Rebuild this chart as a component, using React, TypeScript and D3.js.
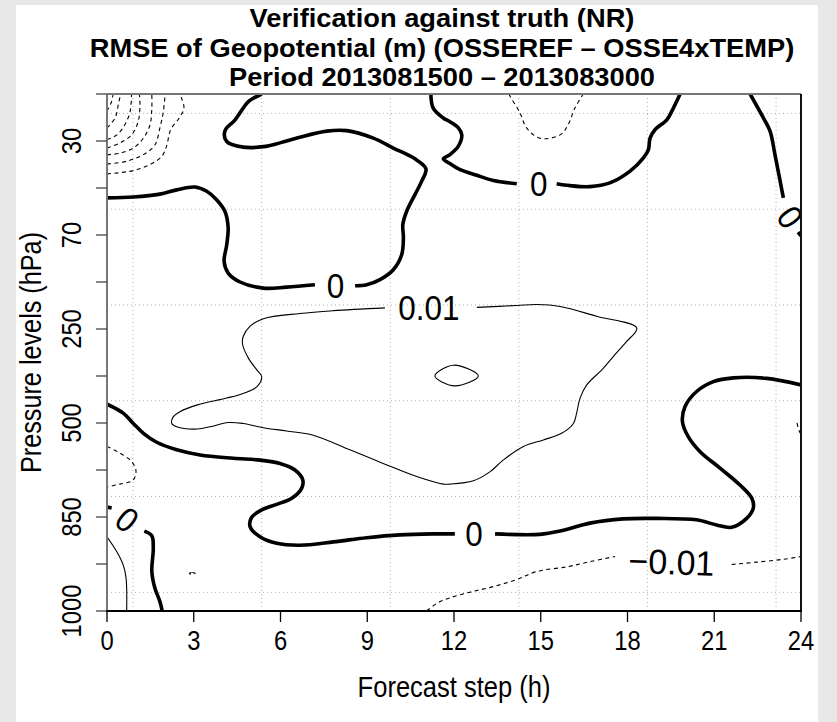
import React from "react";
import * as d3 from "d3";

const WIDTH = 837;
const HEIGHT = 722;

// Axis categories
const STEPS = [0, 3, 6, 9, 12, 15, 18, 21, 24];
const PRESSURE_LEVELS = ["20", "30", "50", "70", "150", "250", "400", "500", "700", "850", "925", "1000"];
const LABELLED_LEVELS = ["30", "70", "250", "500", "850", "1000"];

const TITLE_LINES = [
  "Verification against truth (NR)",
  "RMSE of Geopotential (m) (OSSEREF \u2013 OSSE4xTEMP)",
  "Period 2013081500 \u2013 2013083000",
];

// Contour segments: [forecast step (h), pressure level index from the top]
const zeroNorthWestA = [
  [0, 2.21], [0.91, 2.19], [1.83, 2.13], [2.41, 2.04], [3.04, 1.98], [3.45, 2.07], [3.79, 2.25],
  [4.08, 2.5], [4.19, 2.85], [4.14, 3.21], [4.05, 3.56], [4.19, 3.81], [4.6, 4.0], [5.41, 4.13],
  [6.21, 4.11], [7.19, 4.06],
];
const zeroNorthWestB = [
  [8.58, 4.08], [8.98, 4.06], [9.44, 3.95], [9.9, 3.74], [10.19, 3.42], [10.25, 3.06], [10.23, 2.78],
  [10.36, 2.5], [10.65, 2.14], [10.88, 1.86], [11.03, 1.59], [10.65, 1.38], [9.9, 1.15], [9.21, 0.94],
  [8.29, 0.78], [7.6, 0.79], [6.67, 0.92], [5.98, 1.04], [5.41, 1.12], [4.71, 1.13], [4.14, 1.01],
  [4.08, 0.78], [4.43, 0.55], [4.71, 0.3], [4.89, 0.16], [5.35, 0],
];
const zeroNorthA = [
  [11.2, 0], [11.28, 0.3], [11.63, 0.51], [11.86, 0.59], [12.15, 0.72], [12.27, 0.87], [12.15, 1.11],
  [11.86, 1.29], [11.63, 1.38], [11.86, 1.48], [12.21, 1.61], [12.79, 1.73], [13.36, 1.84], [14.17, 1.91],
];
const zeroNorthB = [
  [15.55, 1.91], [16.01, 1.95], [16.7, 1.97], [17.39, 1.89], [18.09, 1.64], [18.55, 1.36], [18.72, 1.19],
  [18.78, 0.94], [18.95, 0.76], [19.36, 0.55], [19.53, 0.37], [19.82, 0],
];
const zeroNorthEastA = [[22.24, 0], [22.7, 0.51], [22.93, 0.79], [23.1, 1.29], [23.39, 2.21]];
const zeroNorthEastB = [[23.9, 2.94], [24, 3.02]];
const zeroMiddleA = [
  [0, 6.6], [0.56, 6.79], [0.91, 7.01], [1.26, 7.22], [1.72, 7.41], [2.41, 7.57], [3.22, 7.68],
  [4.37, 7.75], [5.29, 7.79], [5.98, 7.86], [6.5, 8.0], [6.77, 8.21], [6.73, 8.39], [6.39, 8.6],
  [5.87, 8.73], [5.35, 8.85], [5.0, 9.01], [4.95, 9.21], [5.29, 9.42], [5.87, 9.56], [6.67, 9.6],
  [7.83, 9.53], [8.98, 9.44], [10.13, 9.38], [11.28, 9.36], [12.03, 9.36],
];
const zeroMiddleB = [
  [13.42, 9.36], [14.97, 9.37], [15.67, 9.3], [16.7, 9.13], [17.85, 9.04], [19.01, 9.03], [20.39, 9.06],
  [21.08, 9.17], [21.6, 9.22], [22.12, 9.03], [22.35, 8.81], [22.3, 8.6], [21.89, 8.32], [21.2, 7.96],
  [20.51, 7.61], [20.1, 7.29], [19.9, 6.97], [19.99, 6.65], [20.39, 6.33], [20.97, 6.12], [21.66, 6.04],
  [22.81, 6.05], [24, 6.19],
];
const zeroSouthWestStub = [[0, 8.79], [0.16, 8.81]];
const zeroSouthWest = [
  [1.29, 9.3], [1.55, 9.4], [1.6, 9.67], [1.55, 10.16], [1.66, 10.52], [1.83, 10.8], [1.91, 11],
];

const plusUpper = [
  [12.79, 4.54], [14.17, 4.5], [14.86, 4.48], [15.67, 4.52], [16.93, 4.73], [18.32, 4.98], [17.95, 5.28],
  [17.53, 5.57], [17.16, 5.84], [16.59, 6.19], [16.36, 6.47], [16.24, 6.79], [16.13, 7.01], [15.72, 7.22],
  [15.09, 7.36], [14.4, 7.5], [13.7, 7.79], [13.24, 8.04], [12.67, 8.23], [11.86, 8.3], [11.63, 8.3],
  [10.71, 8.14], [9.55, 7.86], [8.4, 7.57], [7.13, 7.26], [6.21, 7.17], [5.41, 7.1], [4.71, 7.01],
  [4.19, 6.99], [3.56, 7.08], [3.04, 7.13], [2.41, 7.08], [2.24, 7.01], [2.29, 6.87], [2.52, 6.76],
  [3.1, 6.62], [4.14, 6.47], [4.71, 6.37], [5.18, 6.23], [5.35, 6.01], [5.18, 5.87], [4.89, 5.62],
  [4.69, 5.33], [4.71, 5.16], [4.95, 4.94], [5.41, 4.78], [6.67, 4.67], [7.83, 4.61], [9.61, 4.55],
];
const plusLens = [[11.34, 6.0], [11.98, 5.77], [12.84, 6.0], [12.03, 6.21]];
const plusSouthWest = [[0, 9.42], [0.34, 9.74], [0.56, 10.02], [0.66, 10.3], [0.68, 11]];

const minusSouthA = [
  [11.06, 11], [11.4, 10.84], [11.86, 10.72], [12.55, 10.6], [13.36, 10.48], [14.17, 10.33],
  [14.86, 10.16], [15.9, 10.06], [16.7, 9.95], [17.57, 9.84],
];
const minusSouthB = [[21.6, 10.01], [22.47, 9.96], [23.39, 9.9], [24, 9.84]];
const minusWest = [[0, 7.5], [0.45, 7.64], [0.85, 7.82], [1.0, 8.0], [0.91, 8.21], [0.45, 8.3], [0, 8.36]];
const minusEast = [[23.86, 7.0], [23.97, 7.21], [24, 7.22]];
const minusNorth = [
  [13.9, 0], [13.94, 0.05], [14.28, 0.4], [14.51, 0.72], [14.97, 0.94], [15.67, 0.87], [15.95, 0.65],
  [16.18, 0.3], [16.47, 0],
];
const minusBlob = [[2.85, 10.2], [2.95, 10.18], [3.05, 10.2], [2.95, 10.22]];

// Stratospheric minimum in the upper-left corner, outermost ring first
const corner1 = [[0, 1.7], [0.91, 1.63], [1.49, 1.5], [1.89, 1.33], [2.06, 1.11], [2.2, 0.76], [2.5, 0.51], [2.66, 0.3], [2.58, 0.09], [2.52, 0]];
const corner2 = [[0, 1.49], [0.68, 1.43], [1.26, 1.29], [1.66, 1.08], [1.83, 0.72], [1.95, 0.37], [2.01, 0]];
const corner3 = [[0, 1.29], [0.45, 1.26], [0.91, 1.15], [1.26, 0.94], [1.49, 0.65], [1.55, 0.3], [1.55, 0]];
const corner4 = [[0, 1.15], [0.45, 1.04], [0.85, 0.87], [1.08, 0.58], [1.14, 0.23], [1.12, 0]];
const corner5 = [[0, 0.97], [0.34, 0.87], [0.62, 0.65], [0.8, 0.37], [0.85, 0]];
const corner6 = [[0, 0.72], [0.28, 0.51], [0.39, 0.23], [0.47, 0]];
const corner7 = [[0, 0.37], [0.16, 0.16], [0.21, 0]];

type Seg = { value: number; points: number[][]; closed?: boolean };
const SEGMENTS: Seg[] = [
  ...[zeroNorthWestA, zeroNorthWestB, zeroNorthA, zeroNorthB, zeroNorthEastA, zeroNorthEastB,
    zeroMiddleA, zeroMiddleB, zeroSouthWestStub, zeroSouthWest].map((points) => ({ value: 0, points })),
  { value: 0.01, points: plusUpper },
  { value: 0.01, points: plusLens, closed: true },
  { value: 0.01, points: plusSouthWest },
  ...[minusSouthA, minusSouthB, minusWest, minusEast, minusNorth].map((points) => ({ value: -0.01, points })),
  { value: -0.01, points: minusBlob, closed: true },
  ...[corner1, corner2, corner3, corner4, corner5, corner6, corner7].map((points, i) => ({
    value: -0.01 * (i + 1),
    points,
  })),
];

// Inline contour labels: value, position [step, level index], rotation in degrees
const LABEL_VALUES = [0, 0, 0, 0.01, -0.01, 0, 0];
const LABEL_STEPS = [7.9, 14.93, 12.69, 11.13, 19.52, 0.69, 23.62];
const LABEL_LEVELS = [4.08, 1.91, 9.36, 4.55, 9.96, 9.06, 2.62];
const LABEL_ANGLES = [0, 0, 0, 0, 2, 40, 55];

const fmtLevel = (v: number) => (v === 0 ? "0" : v < 0 ? "\u2212" + d3.format("~g")(-v) : d3.format("~g")(v));

export default function App() {
  const x = d3.scaleLinear().domain([0, 24]).range([107, 801]);
  const y = d3.scaleLinear().domain([0, PRESSURE_LEVELS.length - 1]).range([94, 611]);
  const [x0, x1] = x.range();
  const [y0, y1] = y.range();

  const open = d3
    .line<number[]>()
    .x((d) => x(d[0]))
    .y((d) => y(d[1]))
    .curve(d3.curveCatmullRom.alpha(0.5));
  const closed = d3
    .line<number[]>()
    .x((d) => x(d[0]))
    .y((d) => y(d[1]))
    .curve(d3.curveCatmullRomClosed.alpha(0.5));

  const gridFrac = d3.range(6).map((k) => 0.0375 + k * 0.1853);
  const gridX = gridFrac.map((f) => x0 + f * (x1 - x0));
  const gridY = gridFrac.map((f) => y0 + f * (y1 - y0));

  const font = "'Liberation Sans', Arial, Helvetica, sans-serif";
  const cx = (x0 + x1) / 2;

  return (
    <svg
      width={WIDTH}
      height={HEIGHT}
      viewBox={`0 0 ${WIDTH} ${HEIGHT}`}
      style={{ position: "absolute", left: 0, top: 0, display: "block" }}
      fontFamily={font}
    >
      <defs>
        <clipPath id="plotArea">
          <rect x={x0} y={y0} width={x1 - x0} height={y1 - y0} />
        </clipPath>
      </defs>
      <rect x={0} y={0} width={WIDTH} height={HEIGHT} fill="#e8e8e8" />
      <rect x={16} y={5} width={802} height={HEIGHT - 5} fill="#ffffff" />

      {/* Title */}
      {TITLE_LINES.map((t, i) => (
        <text
          key={t}
          transform={`translate(${cx - 12},${27 + i * 29.5}) scale(1.07,1)`}
          textAnchor="middle"
          fontWeight="bold"
          fontSize={25.5}
          fill="#000"
        >
          {t}
        </text>
      ))}

      {/* Grid */}
      <g stroke="#b0b0b0" strokeWidth={1} strokeDasharray="1,3">
        {gridX.map((gx, i) => (
          <line key={"gx" + i} x1={gx} x2={gx} y1={y0} y2={y1} />
        ))}
        {gridY.map((gy, i) => (
          <line key={"gy" + i} x1={x0} x2={x1} y1={gy} y2={gy} />
        ))}
      </g>

      {/* Contours */}
      <g clipPath="url(#plotArea)" fill="none" stroke="#000" strokeLinejoin="round" strokeLinecap="butt">
        {SEGMENTS.map((s, i) => (
          <path
            key={i}
            d={(s.closed ? closed : open)(s.points) ?? ""}
            strokeWidth={s.value === 0 ? 3.6 : 1.1}
            strokeDasharray={s.value < 0 ? "4,3.5" : undefined}
          />
        ))}
        {LABEL_VALUES.map((v, i) => (
          <text
            key={"lab" + i}
            transform={`translate(${x(LABEL_STEPS[i])},${y(LABEL_LEVELS[i])}) rotate(${LABEL_ANGLES[i]}) scale(${v < 0 ? 0.97 : 0.9},1)`}
            textAnchor="middle"
            dominantBaseline="central"
            fontSize={35}
            fill="#000"
            stroke="none"
          >
            {fmtLevel(v)}
          </text>
        ))}
      </g>

      {/* Frame */}
      <g fill="none">
        <line x1={x0} x2={x0} y1={y0} y2={y1} stroke="#777" strokeWidth={2} />
        <line x1={x0} x2={x1} y1={y0} y2={y0} stroke="#777" strokeWidth={2} />
        <line x1={x1} x2={x1} y1={y0} y2={y1} stroke="#111" strokeWidth={2} />
        <line x1={x0 - 1} x2={x1 + 1} y1={y1} y2={y1} stroke="#000" strokeWidth={2} />
      </g>

      {/* Y axis */}
      <g>
        {PRESSURE_LEVELS.map((p, i) => (
          <line key={p} x1={x0 - 11} x2={x0} y1={y(i)} y2={y(i)} stroke="#444" strokeWidth={1.3} />
        ))}
        {PRESSURE_LEVELS.map((p, i) =>
          LABELLED_LEVELS.includes(p) ? (
            <text
              key={"t" + p}
              transform={`translate(${81},${y(i)}) rotate(-90) scale(0.88,1)`}
              textAnchor="middle"
              fontSize={27}
              fill="#000"
            >
              {p}
            </text>
          ) : null
        )}
        <text
          transform={`translate(${41},${(y0 + y1) / 2}) rotate(-90) scale(0.87,1)`}
          textAnchor="middle"
          fontSize={29}
          fill="#000"
        >
          Pressure levels (hPa)
        </text>
      </g>

      {/* X axis */}
      <g>
        {STEPS.map((s) => (
          <line key={s} x1={x(s)} x2={x(s)} y1={y1} y2={y1 + 11} stroke="#000" strokeWidth={1.3} />
        ))}
        {STEPS.map((s) => (
          <text
            key={"t" + s}
            transform={`translate(${x(s)},${650}) scale(0.88,1)`}
            textAnchor="middle"
            fontSize={27}
            fill="#000"
          >
            {s}
          </text>
        ))}
        <text transform={`translate(${cx},${697}) scale(0.88,1)`} textAnchor="middle" fontSize={29} fill="#000">
          Forecast step (h)
        </text>
      </g>
    </svg>
  );
}
